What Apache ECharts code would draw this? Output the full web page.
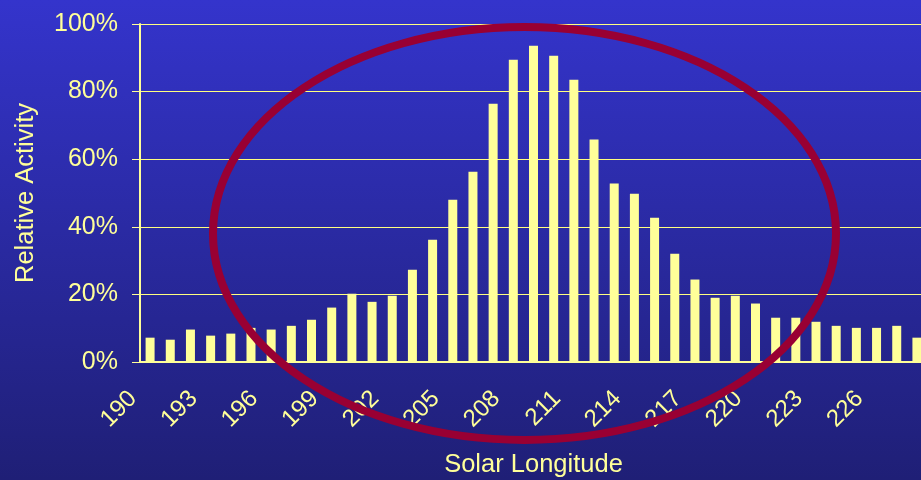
<!DOCTYPE html>
<html lang="en">
<head>
    <meta charset="UTF-8">
    <title>Relative Activity by Solar Longitude</title>
    <script src="https://cdn.jsdelivr.net/npm/echarts@6/dist/echarts.min.js"></script>
    <style>
        html, body {
            margin: 0;
            padding: 0;
            overflow: hidden;
            background: #2a2aa8;
        }

        /* plot area runs past the right edge of the window, like the original slide */
        #chart {
            width: 940px;
            height: 480px;
        }
    </style>
</head>
<body>
    <div id="chart"></div>

    <script>
        // Solar longitude categories (degrees)
        const longitudes = ['190', '191', '192', '193', '194', '195', '196', '197', '198', '199',
            '200', '201', '202', '203', '204', '205', '206', '207', '208', '209',
            '210', '211', '212', '213', '214', '215', '216', '217', '218', '219',
            '220', '221', '222', '223', '224', '225', '226', '227', '228'];

        // Relative activity, percent
        const activity = [7.2, 6.6, 9.6, 7.8, 8.4, 10.1, 9.6, 10.7, 12.5, 16.1,
            20.2, 17.8, 19.6, 27.3, 36.2, 48.0, 56.3, 76.4, 89.4, 93.6,
            90.6, 83.5, 65.8, 52.8, 49.8, 42.7, 32.0, 24.4, 19.0, 19.6,
            17.3, 13.1, 13.1, 11.9, 10.7, 10.1, 10.1, 10.7, 7.2];

        const yTicks = [0, 20, 40, 60, 80, 100];

        const yellow = '#FFFF99';
        const fontFamily = '"Liberation Sans", Arial, sans-serif';

        const chart = echarts.init(document.getElementById('chart'));

        chart.setOption({
            backgroundColor: {
                type: 'linear', x: 0, y: 0, x2: 0, y2: 1,
                colorStops: [
                    { offset: 0, color: '#3434CC' },
                    { offset: 1, color: '#1F1F76' }
                ]
            },
            grid: { left: 140, top: 24, width: 787, height: 338, outerBoundsMode: 'none', containLabel: false },
            xAxis: {
                type: 'category',
                data: longitudes,
                name: 'Solar Longitude',
                nameLocation: 'middle',
                nameGap: 90,
                nameTextStyle: { color: yellow, fontSize: 25.5, fontFamily: fontFamily },
                axisLine: { lineStyle: { color: yellow, width: 2 } },
                axisTick: { interval: 0, length: 8, lineStyle: { color: '#A8A8A8' } },
                axisLabel: {
                    interval: 2,
                    rotate: 45,
                    margin: 16,
                    padding: [0, 24, 0, 0],
                    color: yellow,
                    fontSize: 24,
                    fontFamily: fontFamily
                }
            },
            yAxis: {
                type: 'value',
                min: yTicks[0],
                max: yTicks[yTicks.length - 1],
                interval: 20,
                name: 'Relative Activity',
                nameLocation: 'middle',
                nameGap: 101,
                nameTextStyle: { color: yellow, fontSize: 25.5, fontFamily: fontFamily },
                axisLine: { show: true, lineStyle: { color: yellow, width: 2 } },
                axisTick: { show: true, length: 8, lineStyle: { color: yellow } },
                axisLabel: {
                    margin: 22,
                    formatter: '{value}%',
                    color: yellow,
                    fontSize: 25,
                    fontFamily: fontFamily
                },
                splitLine: { lineStyle: { color: '#FFFF80', width: 1.2 } }
            },
            series: [{
                type: 'bar',
                data: activity,
                barWidth: 9,
                itemStyle: { color: yellow },
                silent: true
            }],
            // the highlight ring drawn over the peak
            graphic: [{
                type: 'ellipse',
                z: 100,
                silent: true,
                shape: { cx: 524.5, cy: 233.5, rx: 311.5, ry: 206.5 },
                style: { fill: 'none', stroke: '#990033', lineWidth: 8 }
            }]
        });
    </script>
</body>
</html>
